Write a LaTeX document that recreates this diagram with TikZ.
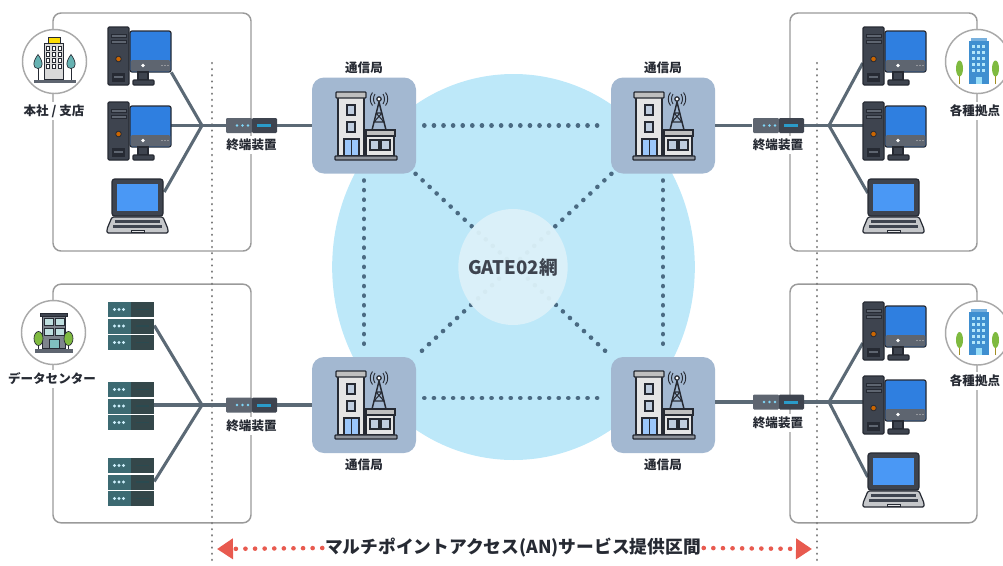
\documentclass[tikz,border=0pt]{standalone}
\usepackage{fontspec}
\setmainfont{Noto Sans CJK JP}
\usepackage{xcolor}
\usetikzlibrary{shapes.geometric, arrows.meta, positioning}

\definecolor{frameGrey}{HTML}{9A9A9A}
\definecolor{linkGrey}{HTML}{5B6975}
\definecolor{inkDark}{HTML}{262A33}
\definecolor{towerGrey}{HTML}{3E444F}
\definecolor{panelGrey}{HTML}{5E6570}
\definecolor{screenBlue}{HTML}{2F7FE0}
\definecolor{lidBlue}{HTML}{4A98F5}
\definecolor{rackTeal}{HTML}{3C6A72}
\definecolor{rackDark}{HTML}{34474A}
\definecolor{cloudBlue}{HTML}{BDE8F9}
\definecolor{coreBlue}{HTML}{DCF1F9}
\definecolor{stationBlue}{HTML}{A3B8D1}
\definecolor{dotBlue}{HTML}{4A6A82}
\definecolor{arrowRed}{HTML}{E85A4F}
\definecolor{branchBlue}{HTML}{3F8FD0}
\definecolor{leafGreen}{HTML}{7FBA40}

\tikzset{
  iconline/.style={draw=inkDark, line width=0.9pt},
  pics/desktop/.style={code={
    \draw[iconline, fill=towerGrey, rounded corners=1pt] (0,0) rectangle (21,58);
    \draw[iconline, fill=panelGrey, line width=0.5pt] (3,7) rectangle (18,10);
    \draw[iconline, fill=panelGrey, line width=0.5pt] (3,13) rectangle (18,16);
    \draw[iconline, fill=orange!80!black, line width=0.6pt] (10.5,32) circle (2.8);
    \fill[inkDark] (4,46) rectangle (17,55);
    \fill[panelGrey] (6,49) rectangle (15,51);
    \draw[iconline, fill=screenBlue, rounded corners=1.5pt] (22,4) rectangle (63,45);
    \fill[panelGrey, rounded corners=1pt] (22.7,33) rectangle (62.3,44.3);
    \fill[white] (35,38.5) circle (1.8);
    \foreach \dx in {54,57,60} \fill[white!80!black] (\dx,38.5) circle (0.7);
    \draw[iconline, fill=towerGrey] (30,45) rectangle (40,53);
    \draw[iconline, fill=towerGrey, rounded corners=0.8pt] (25,53) rectangle (46,58);
  }},
  pics/laptop/.style={code={
    \draw[iconline, fill=towerGrey, rounded corners=2pt] (5,0) rectangle (56,37);
    \fill[lidBlue] (10,5) rectangle (51,32);
    \draw[iconline, fill=white!70!towerGrey, rounded corners=1pt] (5,38) -- (56,38) -- (61,50) -- (61,54) -- (0,54) -- (0,50) -- cycle;
    \fill[towerGrey] (8,41) rectangle (53,44);
    \fill[towerGrey] (6,46) rectangle (55,49);
    \draw[inkDark, line width=0.5pt, fill=white!85!towerGrey] (24,51) rectangle (37,53.5);
  }},
  pics/rack/.style={code={
    \foreach \uy in {0,16.5,33} {
      \fill[rackTeal] (0,\uy) rectangle (23,\uy+15);
      \fill[rackDark] (23,\uy) rectangle (46,\uy+15);
      \foreach \dx in {6.5,11,15.5} \fill[white!80!cyan] (\dx,\uy+7.5) circle (1.7);
      \draw[rackTeal!70!black, line width=0.8pt] (28,\uy+7.5) -- (41,\uy+7.5);
    }
  }},
  pics/router/.style={code={
    \fill[panelGrey, rounded corners=0.8pt] (0,0) rectangle (26,15);
    \fill[towerGrey, rounded corners=0.8pt] (26,0) rectangle (51,15);
    \foreach \dx in {11,16.5,22} \fill[cyan!50!white] (\dx,7.5) circle (1.4);
    \fill[cyan!60!teal] (31,6) rectangle (45,9);
  }},
  pics/station/.style={code={
    % tall block
    \draw[iconline, fill=white!90!black] (25,18) rectangle (51,78);
    \draw[iconline, fill=white!75!black, rounded corners=0.5pt] (23,14) rectangle (53,20);
    \draw[iconline, fill=stationBlue!70!white] (34,27) rectangle (42,37);
    \draw[iconline, fill=stationBlue!70!white] (34,44) rectangle (42,54);
    \draw[iconline, fill=lidBlue!55!white] (31,61) rectangle (46,78);
    \draw[iconline] (38.5,61) -- (38.5,78);
    % mast
    \draw[inkDark, line width=1.1pt] (66,24) -- (59,52) -- (73,52) -- cycle;
    \draw[inkDark, line width=0.8pt] (63,35) -- (69,35) (61,44) -- (71,44) (63,35) -- (71,44) (69,35) -- (61,44);
    \draw[iconline, fill=white] (66,21) circle (2.2);
    \draw[inkDark, line width=0.7pt] (62,16) .. controls (60,19) and (60,23) .. (62,26);
    \draw[inkDark, line width=0.7pt] (59.5,14.5) .. controls (56.5,18) and (56.5,24) .. (59.5,27.5);
    \draw[inkDark, line width=0.7pt] (70,16) .. controls (72,19) and (72,23) .. (70,26);
    \draw[inkDark, line width=0.7pt] (72.5,14.5) .. controls (75.5,18) and (75.5,24) .. (72.5,27.5);
    % low block
    \draw[iconline, fill=white!90!black] (53,58) rectangle (81,78);
    \draw[iconline, fill=white!75!black] (53,52) rectangle (82,58);
    \draw[iconline, fill=stationBlue!70!white] (57,62) rectangle (66,72);
    \draw[iconline, fill=stationBlue!70!white] (68,62) rectangle (77,72);
    % ground
    \draw[iconline, fill=panelGrey!70!white, rounded corners=0.5pt] (22,78) rectangle (84,82);
  }},
  pics/hqicon/.style={code={
    \draw[iconline, line width=0.5pt, fill=yellow!80!orange] (-6.5,-24) rectangle (6,-18);
    \draw[iconline, line width=0.5pt, fill=white!85!black] (-10,-18) rectangle (9,18);
    \foreach \wy in {-13,-7,-1,5} \foreach \wx in {-6.5,-0.5,5} \draw[inkDark, line width=0.6pt, fill=white] (\wx-1.6,\wy-1.8) rectangle (\wx+1.6,\wy+1.8);
    \foreach \tx in {-16.5,16.5} {
      \draw[inkDark, line width=0.7pt] (\tx,2) -- (\tx,18);
      \draw[inkDark, line width=0.5pt, fill=teal!60!white] (\tx,-7) .. controls (\tx+6,1) and (\tx+5,7) .. (\tx,7) .. controls (\tx-5,7) and (\tx-6,1) .. (\tx,-7) -- cycle;
    }
    \fill[panelGrey] (-21,18) rectangle (21,21);
  }},
  pics/dcicon/.style={code={
    \draw[iconline, line width=0.5pt, fill=panelGrey!80!white] (-11,-16) rectangle (12,16);
    \draw[iconline, line width=0.5pt, fill=towerGrey] (-13,-19) rectangle (14,-16);
    \foreach \wy in {-11,-1} \foreach \wx in {-5,6} \draw[inkDark, line width=0.5pt, fill=teal!25!white] (\wx-4.5,\wy-3.5) rectangle (\wx+4.5,\wy+3.5);
    \draw[inkDark, line width=0.5pt, fill=teal!50!white] (-4,7) rectangle (6,16);
    \foreach \tx in {-15,15} {
      \draw[inkDark, line width=0.7pt] (\tx,5) -- (\tx,16);
      \draw[inkDark, line width=0.5pt, fill=leafGreen] (\tx,6) ellipse (4.5 and 7);
    }
    \fill[panelGrey] (-19,16) rectangle (19,20);
  }},
  pics/branchicon/.style={code={
    \fill[branchBlue] (-9,-21) rectangle (11,22);
    \fill[branchBlue!70!white] (-7,-24) rectangle (9,-21);
    \foreach \wy in {-15,-9,-3,3,9} \foreach \wx in {-4,1,6} \fill[white!70!cyan] (\wx-1.3,\wy-1.5) rectangle (\wx+1.3,\wy+1.5);
    \fill[white!60!cyan] (-2,15) rectangle (4,22);
    \foreach \tx in {-18,18} {
      \fill[olive!60!brown] (\tx-0.8,6) rectangle (\tx+0.8,22);
      \fill[leafGreen] (\tx,7) ellipse (3.5 and 8);
    }
  }}
}

\begin{document}
\begin{tikzpicture}[
    x=0.75pt, y=-0.75pt,
    sitebox/.style={rectangle, rounded corners=6pt, draw=frameGrey, line width=1.1pt, inner sep=0pt},
    sitemark/.style={circle, draw=frameGrey!85!white, fill=white, line width=1.1pt, minimum size=48pt, inner sep=0pt},
    tag/.style={fill=white, inner sep=2.2pt, text=inkDark, font=\fontsize{9.4pt}{11pt}\selectfont\bfseries},
    stationbox/.style={rectangle, rounded corners=9pt, fill=stationBlue, minimum width=78pt, minimum height=72pt, inner sep=0pt},
    monitorport/.style={minimum width=30.75pt, minimum height=30.75pt, inner sep=0pt},
    towerport/.style={minimum width=16.5pt, minimum height=43.5pt, inner sep=0pt},
    lidport/.style={minimum width=38.25pt, minimum height=27.75pt, inner sep=0pt},
    rackport/.style={minimum width=34.5pt, minimum height=36pt, inner sep=0pt},
    routerport/.style={minimum width=38.25pt, minimum height=11.25pt, inner sep=0pt},
    link/.style={draw=linkGrey, line width=2.3pt},
    dotline/.style={draw=dotBlue, line width=3.4pt, line cap=round, dash pattern=on 0.1pt off 7.1pt},
    limitline/.style={draw=frameGrey!80!black, line width=1.8pt, line cap=round, dash pattern=on 0.1pt off 4.5pt},
    spanline/.style={draw=arrowRed, line width=3.4pt, line cap=round, dash pattern=on 0.1pt off 7.1pt}
]
\useasboundingbox (0,0) rectangle (1003,565);

% =====================
% Network cloud
% =====================
\node[ellipse, fill=cloudBlue, minimum width=272pt, minimum height=289.5pt, inner sep=0pt] (cloud) at (513.5,267) {};

\node[stationbox] (stnA) at (364,125.5) {};
\node[stationbox] (stnB) at (663,125.5) {};
\node[stationbox] (stnC) at (364,405) {};
\node[stationbox] (stnD) at (663,405) {};
\node[tag, above=0.5pt of stnA] (stnAtag) {通信局};
\node[tag, above=0.5pt of stnB] (stnBtag) {通信局};
\node[tag, below=1.5pt of stnC] (stnCtag) {通信局};
\node[tag, below=1.5pt of stnD] (stnDtag) {通信局};

% =====================
% Dotted backbone
% =====================
\draw[dotline, shorten <=6pt, shorten >=6pt] (stnA) -- (stnB);
\draw[dotline, shorten <=6pt, shorten >=6pt] ([yshift=5.25pt]stnC.east) -- ([yshift=5.25pt]stnD.west);
\draw[dotline, shorten <=5pt, shorten >=5pt] (stnA) -- (stnC);
\draw[dotline, shorten <=5pt, shorten >=5pt] (stnB) -- (stnD);
\draw[dotline] (stnA) -- (stnD);
\draw[dotline] (stnB) -- (stnC);

\node[ellipse, fill=coreBlue, fill opacity=0.95, minimum width=82pt, minimum height=87pt, inner sep=0pt] (core) at (513,267) {};
\node[font=\fontsize{14pt}{16pt}\selectfont\bfseries, text=towerGrey] (coreTag) at (core) {GATE02網};

% =====================
% Site frames
% =====================
\node[sitebox, minimum width=148.5pt, minimum height=178.5pt] (siteA) at (152,132) {};
\node[sitebox, minimum width=148.5pt, minimum height=179pt] (siteC) at (152,403.5) {};
\node[sitebox, minimum width=140.25pt, minimum height=178.5pt] (siteB) at (883.5,132) {};
\node[sitebox, minimum width=140.25pt, minimum height=179pt] (siteD) at (883.5,403.5) {};

\node[sitemark] (markA) at (54.5,61.5) {};
\node[sitemark] (markC) at (53.5,332.5) {};
\node[sitemark] (markB) at (977.5,61.5) {};
\node[sitemark] (markD) at (977.5,333) {};
\node[tag] (markAtag) at (54,111) {本社 / 支店};
\node[tag] (markCtag) at (52,379) {データセンター};
\node[tag] (markBtag) at (975,111) {各種拠点};
\node[tag] (markDtag) at (975,381) {各種拠点};
\pic at (markA) {hqicon};
\pic at (markC) {dcicon};
\pic at (markB) {branchicon};
\pic at (markD) {branchicon};

% =====================
% Service limits
% =====================
\coordinate (limitLa) at (212,63);
\coordinate (limitLb) at (212,563);
\coordinate (limitRa) at (817,63);
\coordinate (limitRb) at (817,563);
\draw[limitline] (limitLa) -- (limitLb);
\draw[limitline] (limitRa) -- (limitRb);

% =====================
% Left column: devices
% =====================
\node[monitorport] (pcA) at (150.5,51.5) {};
\node[monitorport] (pcB) at (150.5,125.5) {};
\node[lidport] (lapA) at (138.5,192) {};
\node[rackport] (rackA) at (131,325.5) {};
\node[rackport] (rackB) at (131,405) {};
\node[rackport] (rackC) at (131,481.5) {};
\coordinate (hubA) at (202,125.5);
\coordinate (hubC) at (202,405);
\node[routerport] (termA) at (251.5,125.5) {};
\node[routerport] (termC) at (251.5,405) {};
\node[tag] (termAtag) at (251.5,145) {終端装置};
\node[tag] (termCtag) at (251.5,426) {終端装置};

% =====================
% Right column: devices
% =====================
\node[towerport] (pcC) at (874,56) {};
\node[towerport] (pcD) at (874,125.5) {};
\node[lidport] (lapB) at (893.5,193) {};
\node[towerport] (pcE) at (874,331) {};
\node[towerport] (pcF) at (874,402) {};
\node[lidport] (lapC) at (893.5,477) {};
\coordinate (hubB) at (829,125.5);
\coordinate (hubD) at (829,402);
\node[routerport] (termB) at (778,125.5) {};
\node[routerport] (termD) at (778,402) {};
\node[tag] (termBtag) at (778,145) {終端装置};
\node[tag] (termDtag) at (778,423) {終端装置};

% =====================
% Links
% =====================
\draw[link] (hubA) -- (pcA.south east);
\draw[link] (hubA) -- (pcB.east);
\draw[link] (hubA) -- (lapA.east);
\draw[link] (hubA) -- (termA) -- (stnA);
\draw[link] (hubC) -- (rackA.east);
\draw[link] (hubC) -- (rackB.east);
\draw[link] (hubC) -- (rackC.east);
\draw[link] (hubC) -- (termC) -- (stnC);
\draw[link] (hubB) -- ([yshift=-5.25pt]pcC.west);
\draw[link] (hubB) -- (pcD.west);
\draw[link] (hubB) -- (lapB.west);
\draw[link] (hubB) -- (termB) -- (stnB);
\draw[link] (hubD) -- ([yshift=-9pt]pcE.west);
\draw[link] (hubD) -- (pcF.west);
\draw[link] (hubD) -- (lapC.west);
\draw[link] (hubD) -- (termD.center) -- ([yshift=2.25pt]stnD.east);

\pic at (108,27) {desktop};
\pic at (108,102) {desktop};
\pic at (107,179) {laptop};
\pic at (108,302) {rack};
\pic at (108,382) {rack};
\pic at (108,458) {rack};
\pic at (863,27) {desktop};
\pic at (863,102) {desktop};
\pic at (863,179) {laptop};
\pic at (863,302) {desktop};
\pic at (863,376) {desktop};
\pic at (863,453) {laptop};
\pic at (226,118) {router};
\pic at (226,397.5) {router};
\pic at (753,118) {router};
\pic at (753,394.5) {router};
\pic at (313,78) {station};
\pic at (611,78) {station};
\pic at (313,357) {station};
\pic at (611,357) {station};

% =====================
% Service span
% =====================
\node[font=\fontsize{13.3pt}{16pt}\selectfont\bfseries, inner sep=2pt, text=inkDark] (span) at (513,548) {マルチポイントアクセス(AN)サービス提供区間};
\coordinate (spanL) at (217,549);
\coordinate (spanR) at (812,549);
\draw[spanline, -{Triangle[length=12pt, width=15pt, fill=arrowRed]}] (span.west) -- (spanL);
\draw[spanline, -{Triangle[length=12pt, width=15pt, fill=arrowRed]}] (span.east) -- (spanR);

\end{tikzpicture}
\end{document}
